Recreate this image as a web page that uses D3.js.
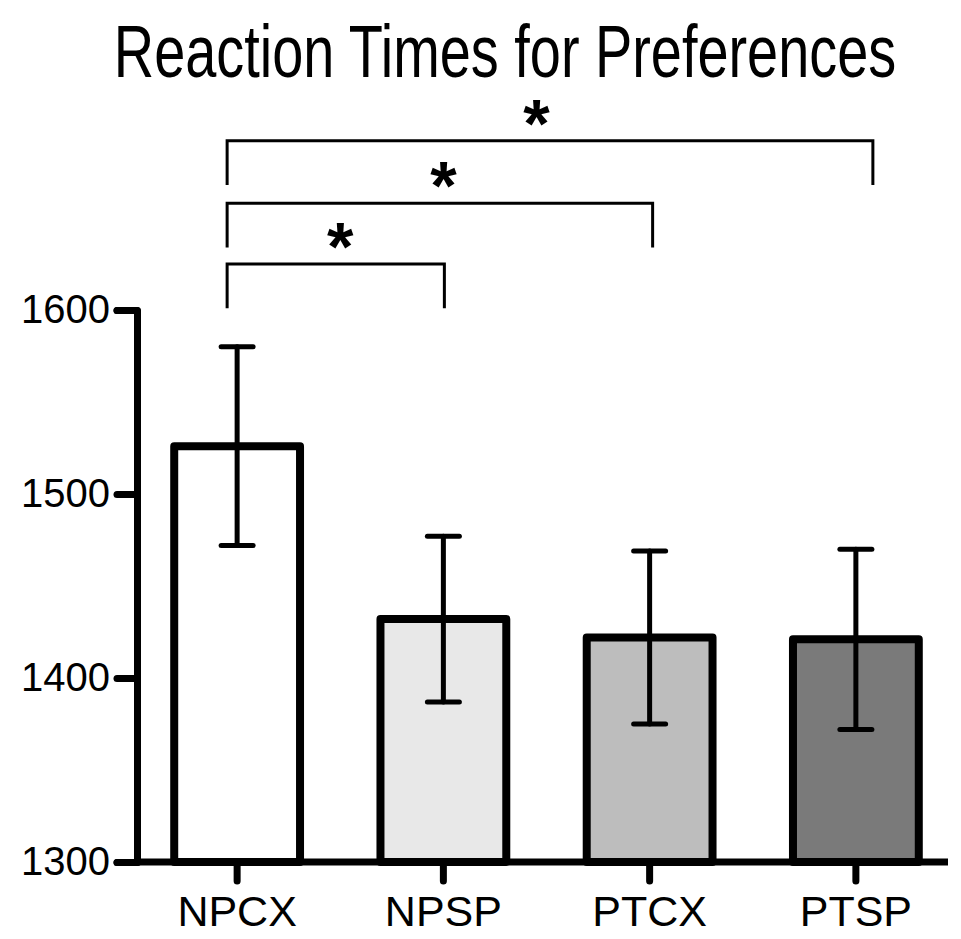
<!DOCTYPE html>
<html>
<head>
<meta charset="utf-8">
<script src="https://cdn.jsdelivr.net/npm/d3@7"></script>
<style>
  body { margin: 0; background: #fff; }
  text { font-family: "Liberation Sans", Arial, sans-serif; }
</style>
</head>
<body>
<div id="chart"></div>
<script>
// chart data
const categories = ["NPCX", "NPSP", "PTCX", "PTSP"];
const means = [1526, 1432, 1422, 1421];
const errors = [54, 45, 47, 49];
const fills = ["#ffffff", "#e8e8e8", "#bdbdbd", "#7a7a7a"];
const yTicks = [1300, 1400, 1500, 1600];
// significance brackets: [from, to, level]
const bracketFrom = ["NPCX", "NPCX", "NPCX"];
const bracketTo = ["NPSP", "PTCX", "PTSP"];
const bracketLevel = [1625, 1658, 1692];
const bracketLabel = ["*", "*", "*"];

const width = 961, height = 939;
const axisX = 137;

const svg = d3.select("#chart")
    .append("svg")
    .attr("width", width)
    .attr("height", height);

const x = d3.scaleBand()
    .domain(categories)
    .range([134, 959])
    .paddingInner(0.39)
    .paddingOuter(0.195);

const y = d3.scaleLinear()
    .domain([1300, 1600])
    .range([862, 310]);

const cx = d => x(d) + x.bandwidth() / 2;

// title (condensed horizontally like the original)
const title = svg.append("text")
    .attr("text-anchor", "middle")
    .attr("font-size", 74)
    .attr("transform", "translate(505,77) scale(0.755,1)")
    .text("Reaction Times for Preferences");

// bars
svg.selectAll("rect.bar")
    .data(categories)
    .join("rect")
    .attr("class", "bar")
    .attr("x", d => x(d))
    .attr("width", x.bandwidth())
    .attr("y", (d, i) => y(means[i]))
    .attr("height", (d, i) => y(1300) - y(means[i]))
    .attr("fill", (d, i) => fills[i])
    .attr("stroke", "#000")
    .attr("stroke-width", 8)
    .attr("stroke-linejoin", "round");

// error bars
const eb = svg.selectAll("g.err")
    .data(categories)
    .join("g")
    .attr("class", "err")
    .attr("stroke", "#000")
    .attr("stroke-width", 5)
    .attr("stroke-linecap", "round");
eb.append("line")
    .attr("x1", d => cx(d)).attr("x2", d => cx(d))
    .attr("y1", (d, i) => y(means[i] + errors[i]))
    .attr("y2", (d, i) => y(means[i] - errors[i]));
eb.append("line")
    .attr("x1", d => cx(d) - 16).attr("x2", d => cx(d) + 16)
    .attr("y1", (d, i) => y(means[i] + errors[i]))
    .attr("y2", (d, i) => y(means[i] + errors[i]));
eb.append("line")
    .attr("x1", d => cx(d) - 16).attr("x2", d => cx(d) + 16)
    .attr("y1", (d, i) => y(means[i] - errors[i]))
    .attr("y2", (d, i) => y(means[i] - errors[i]));

// y axis
const yAxis = svg.append("g")
    .attr("transform", `translate(${axisX},0)`)
    .call(d3.axisLeft(y).tickValues(yTicks).tickSize(20).tickPadding(7).tickFormat(d3.format("d")));
yAxis.select(".domain").attr("stroke-width", 7).attr("stroke-linejoin", "round").attr("stroke-linecap", "round");
yAxis.selectAll(".tick line").attr("stroke-width", 7).attr("stroke-linecap", "round");
yAxis.selectAll(".tick text")
    .attr("font-size", 40)
    .attr("fill", "#000")
    .style("font-family", "'Liberation Sans', Arial, sans-serif");

// x axis
svg.append("line")
    .attr("x1", axisX).attr("x2", 948)
    .attr("y1", y(1300)).attr("y2", y(1300))
    .attr("stroke", "#000").attr("stroke-width", 7);
const xAxis = svg.append("g")
    .attr("transform", `translate(0,${y(1300)})`)
    .call(d3.axisBottom(x).tickSize(19).tickPadding(14).tickSizeOuter(0));
xAxis.select(".domain").remove();
xAxis.selectAll(".tick line").attr("stroke-width", 7).attr("stroke-linecap", "round");
xAxis.selectAll(".tick text")
    .attr("font-size", 43)
    .attr("fill", "#000")
    .style("font-family", "'Liberation Sans', Arial, sans-serif");

// significance brackets
const leftNudge = -10, rightNudge = [1, 3, 17];
const drop = 24;
bracketLevel.forEach((lvl, i) => {
    const x1 = cx(bracketFrom[i]) + leftNudge;
    const x2 = cx(bracketTo[i]) + rightNudge[i];
    svg.append("path")
        .attr("d", `M${x1},${y(lvl - drop)}V${y(lvl)}H${x2}V${y(lvl - drop)}`)
        .attr("fill", "none")
        .attr("stroke", "#000")
        .attr("stroke-width", 3);
    svg.append("text")
        .attr("x", (cx(bracketFrom[i]) + cx(bracketTo[i])) / 2 - (i === 2 ? 10 : 0))
        .attr("y", y(lvl) + 6)
        .attr("text-anchor", "middle")
        .attr("font-size", 68)
        .attr("font-weight", "bold")
        .text(bracketLabel[i]);
});
</script>
</body>
</html>
